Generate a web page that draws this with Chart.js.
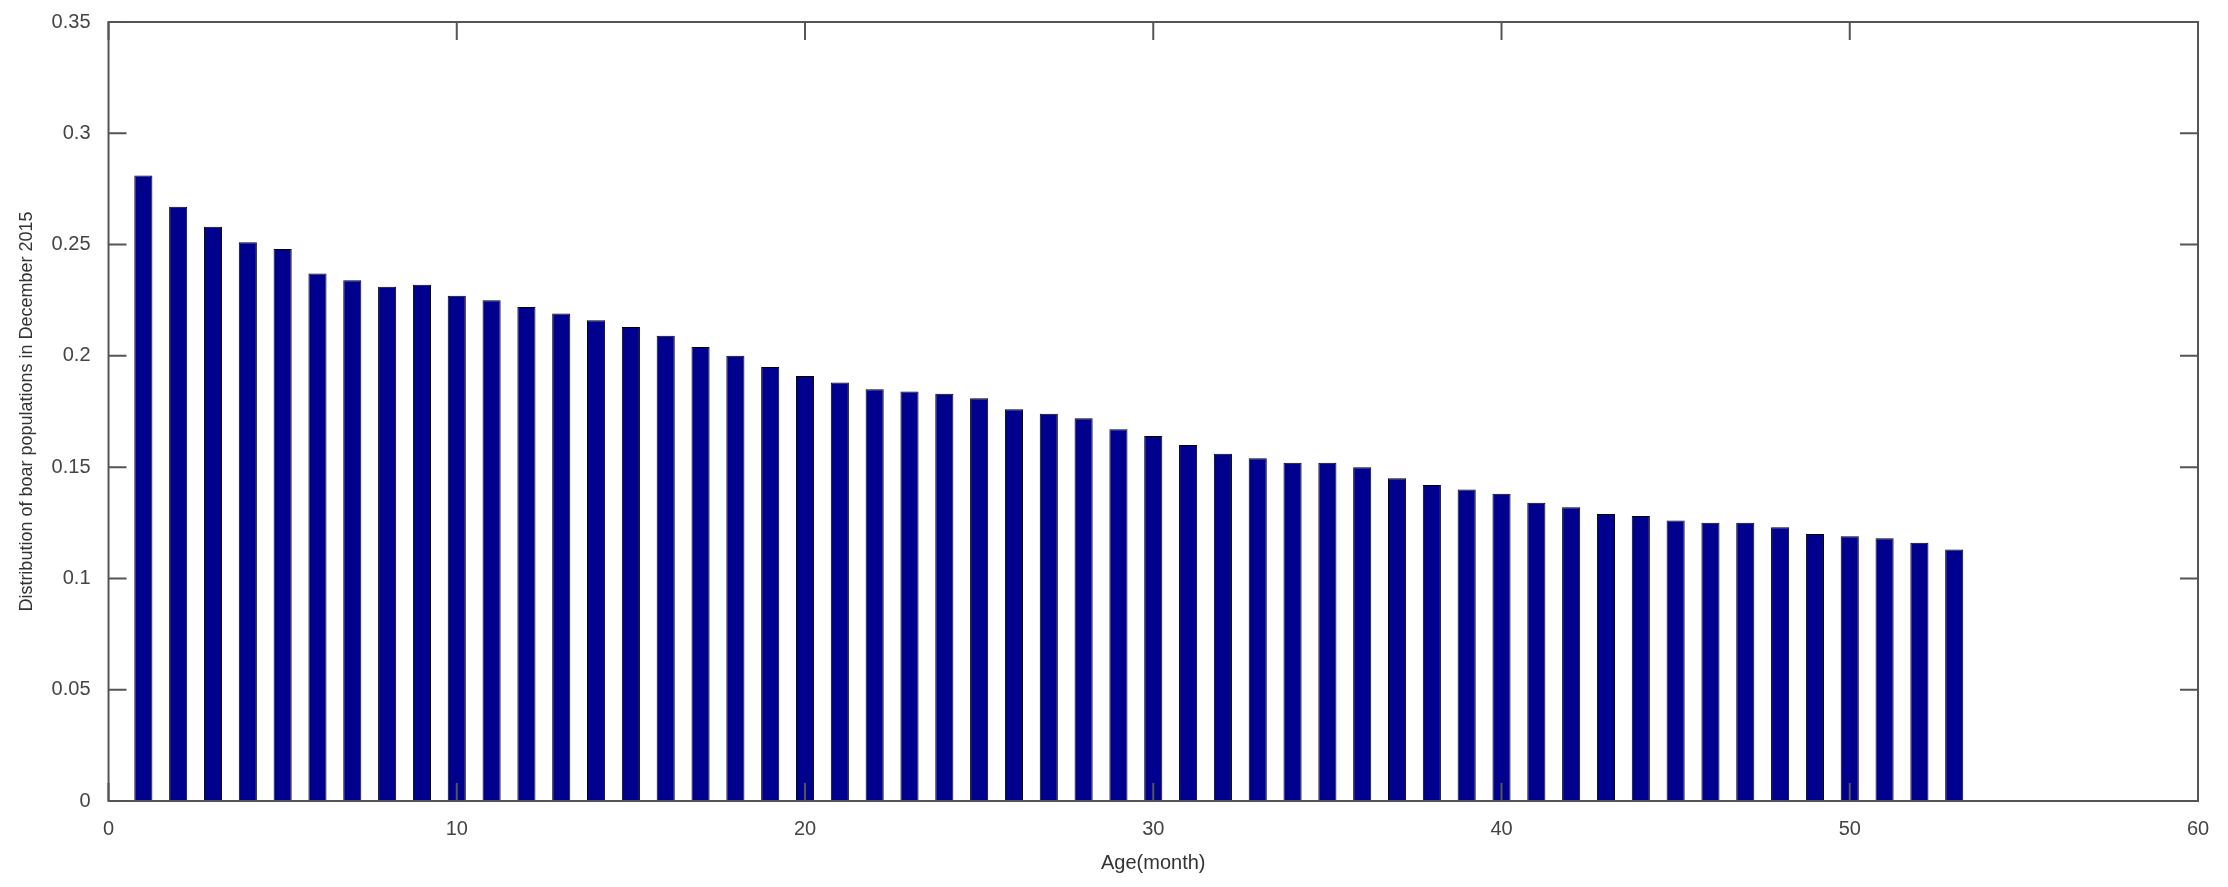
<!DOCTYPE html>
<html>
<head>
<meta charset="utf-8">
<script src="https://cdn.jsdelivr.net/npm/chart.js@4.4.0/dist/chart.umd.min.js"></script>
<style>
  html, body { margin: 0; padding: 0; background: #fff; }
  #wrap { width: 2228px; height: 887px; }
</style>
</head>
<body>
<div id="wrap"><canvas id="c"></canvas></div>
<script>
const ages = [];
for (let i = 1; i <= 53; i++) ages.push(i);
const shares = [
  0.281, 0.267, 0.258, 0.251, 0.248, 0.237, 0.234, 0.231, 0.232, 0.227,
  0.225, 0.222, 0.219, 0.216, 0.213, 0.209, 0.204, 0.200, 0.195, 0.191,
  0.188, 0.185, 0.184, 0.183, 0.181, 0.176, 0.174, 0.172, 0.167, 0.164,
  0.160, 0.156, 0.154, 0.152, 0.152, 0.150, 0.145, 0.142, 0.140, 0.138,
  0.134, 0.132, 0.129, 0.128, 0.126, 0.125, 0.125, 0.123, 0.120, 0.119,
  0.118, 0.116, 0.113
];
const xTicks = [0, 10, 20, 30, 40, 50, 60];
const yTicks = [0, 0.05, 0.1, 0.15, 0.2, 0.25, 0.3, 0.35];

// MATLAB style box with inward ticks
const boxTicks = {
  id: 'boxTicks',
  afterDraw(chart) {
    const { ctx, chartArea: a, scales: { x, y } } = chart;
    ctx.save();
    ctx.strokeStyle = '#555';
    ctx.lineWidth = 2;
    ctx.strokeRect(a.left, a.top, a.right - a.left, a.bottom - a.top);
    const len = 18;
    ctx.beginPath();
    xTicks.forEach(v => {
      const px = x.getPixelForValue(v);
      ctx.moveTo(px, a.bottom); ctx.lineTo(px, a.bottom - len);
      ctx.moveTo(px, a.top); ctx.lineTo(px, a.top + len);
    });
    yTicks.forEach(v => {
      const py = y.getPixelForValue(v);
      ctx.moveTo(a.left, py); ctx.lineTo(a.left + len, py);
      ctx.moveTo(a.right, py); ctx.lineTo(a.right - len, py);
    });
    ctx.stroke();
    ctx.restore();
  }
};

new Chart(document.getElementById('c'), {
  type: 'bar',
  data: {
    datasets: [{
      data: ages.map((a, i) => ({ x: a, y: shares[i] })),
      backgroundColor: '#00008f',
      borderColor: '#000',
      borderWidth: 1,
      categoryPercentage: 1,
      barPercentage: 0.52
    }]
  },
  options: {
    responsive: true,
    maintainAspectRatio: false,
    animation: false,
    layout: { padding: { top: 16, right: 30, left: 12, bottom: 8 } },
    plugins: { legend: { display: false }, tooltip: { enabled: false } },
    scales: {
      x: {
        type: 'linear', min: 0, max: 60, offset: false,
        afterBuildTicks: s => { s.ticks = xTicks.map(v => ({ value: v })); },
        grid: { display: false, offset: false },
        border: { display: false },
        ticks: { color: '#444', font: { family: 'Liberation Sans', size: 20 }, maxRotation: 0, padding: 8 },
        title: { display: true, text: 'Age(month)', color: '#333', font: { family: 'Liberation Sans', size: 20 }, padding: { top: 2 } }
      },
      y: {
        min: 0, max: 0.35,
        afterBuildTicks: s => { s.ticks = yTicks.map(v => ({ value: v })); },
        grid: { display: false },
        border: { display: false },
        ticks: { color: '#444', font: { family: 'Liberation Sans', size: 20 }, padding: 10,
                 callback: v => String(+v.toFixed(2)) },
        title: { display: true, text: 'Distribution of boar populations in December 2015', color: '#333', font: { family: 'Liberation Sans', size: 18 }, padding: { bottom: 4 } }
      }
    }
  },
  plugins: [boxTicks]
});
</script>
</body>
</html>
